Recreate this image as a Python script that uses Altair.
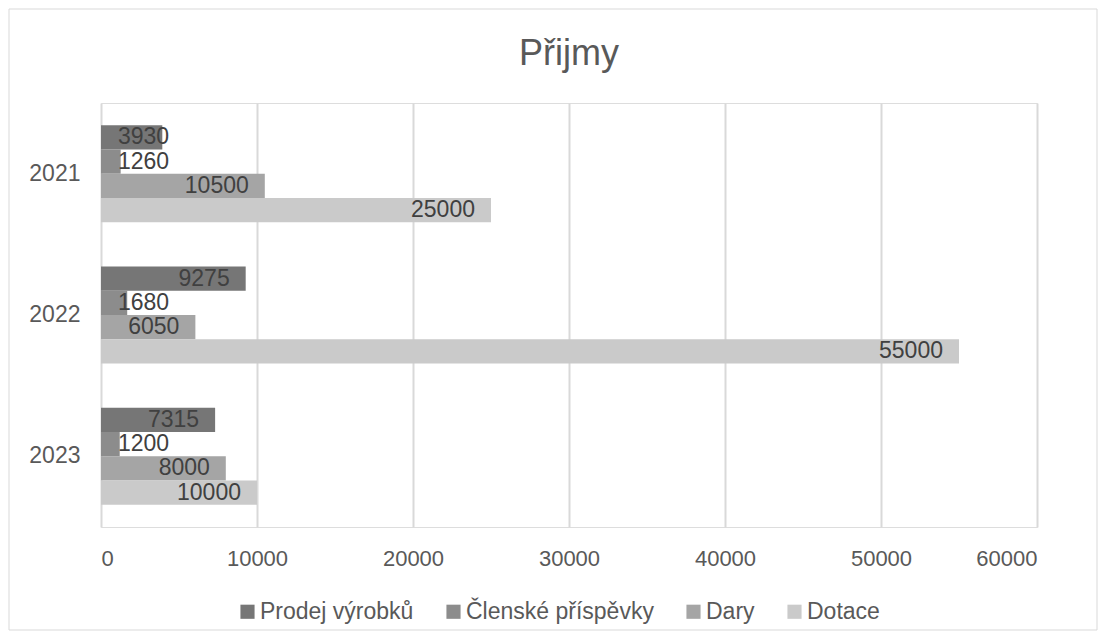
import altair as alt
import pandas as pd

years = ["2021", "2022", "2023"]
series = ["Prodej výrobků", "Členské příspěvky", "Dary", "Dotace"]
prodej = [3930, 9275, 7315]
clenske = [1260, 1680, 1200]
dary = [10500, 6050, 8000]
dotace = [25000, 55000, 10000]
colors = ["#767676", "#8c8c8c", "#a5a5a5", "#cacaca"]

rows = []
for i, y in enumerate(years):
    for s, vals in zip(series, [prodej, clenske, dary, dotace]):
        rows.append({"year": y, "series": s, "value": vals[i]})
df = pd.DataFrame(rows)

FONT = "Liberation Sans"
W, H = 936, 424

base = alt.Chart(df)

yenc = alt.Y("year:N", sort=years, title=None,
             scale=alt.Scale(paddingInner=0.313, paddingOuter=0.157),
             axis=alt.Axis(labelFontSize=23, labelColor="#595959", labelFont=FONT,
                           ticks=False, domain=False, labelPadding=21))
yoff = alt.YOffset("series:N", sort=series, scale=alt.Scale(paddingInner=0, paddingOuter=0))

bars = base.mark_bar().encode(
    x=alt.X("value:Q", title=None,
            scale=alt.Scale(domain=[0, 60000], nice=False),
            axis=alt.Axis(values=[0, 10000, 20000, 30000, 40000, 50000, 60000],
                          labelFontSize=22, labelColor="#595959", labelFont=FONT,
                          ticks=False, domain=False, labelPadding=21,
                          gridColor="#d9d9d9", gridWidth=2, format="d")),
    y=yenc,
    yOffset=yoff,
    color=alt.Color("series:N", sort=series,
                    scale=alt.Scale(domain=series, range=colors),
                    legend=alt.Legend(orient="none", direction="horizontal",
                                      legendX=135, legendY=497, title=None,
                                      symbolType="square", symbolSize=200,
                                      symbolStrokeWidth=0,
                                      labelFontSize=23, labelColor="#595959",
                                      labelFont=FONT, columnPadding=28,
                                      labelOffset=1, labelLimit=400)),
)

big = base.transform_filter("datum.value >= 5000").mark_text(
    align="right", dx=-16, fontSize=23, font=FONT, color="#404040", baseline="middle"
).encode(x="value:Q", y=alt.Y("year:N", sort=years), yOffset=alt.YOffset("series:N", sort=series),
         text=alt.Text("value:Q", format="d"))

small = base.transform_filter("datum.value < 5000").mark_text(
    align="left", dx=17, fontSize=23, font=FONT, color="#404040", baseline="middle"
).encode(x=alt.datum(0), y=alt.Y("year:N", sort=years), yOffset=alt.YOffset("series:N", sort=series),
         text=alt.Text("value:Q", format="d"))

border = alt.Chart(pd.DataFrame({"a": [0]})).mark_rect(
    fill=None, stroke="#d9d9d9", strokeWidth=1, clip=False
).encode(x=alt.value(-92), x2=alt.value(996), y=alt.value(-94), y2=alt.value(527))

chart = alt.layer(border, bars, big, small).properties(
    width=W, height=H,
    title=alt.Title("Přijmy", fontSize=36, font=FONT, color="#595959",
                    fontWeight="normal", anchor="middle", baseline="alphabetic",
                    offset=-92),
    padding={"left": 93, "top": 95, "right": 61, "bottom": 104},
    autosize=alt.AutoSizeParams(type="none"),
).configure_view(stroke=None).configure(background="white")

chart.save("out.html", embed_options={"renderer": "svg", "actions": False})
